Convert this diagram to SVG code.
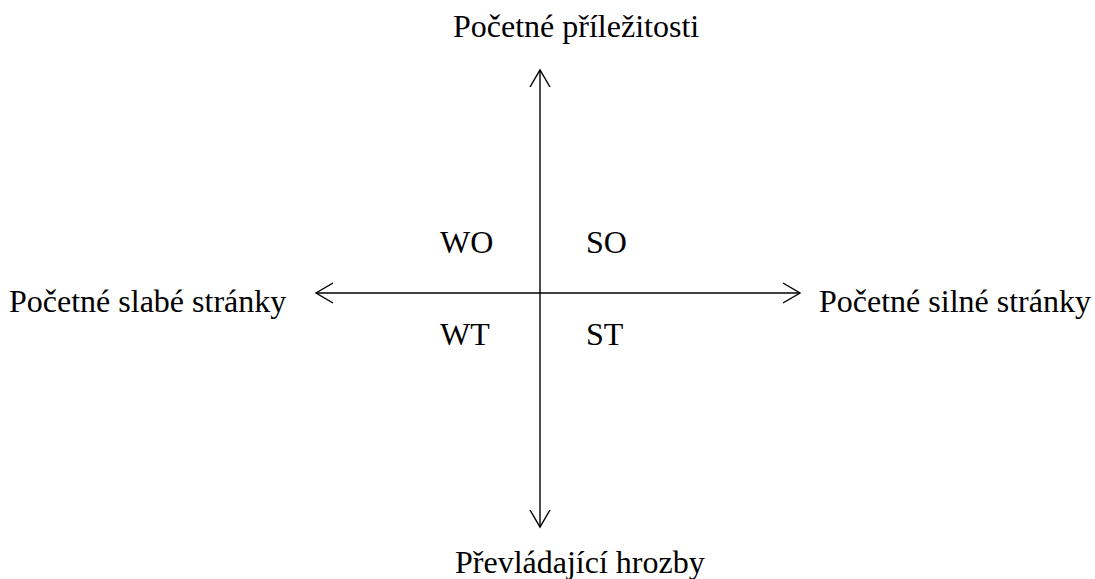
<svg xmlns="http://www.w3.org/2000/svg" width="1095" height="579" viewBox="0 0 1095 579">
  <style>
    text { font-family: "Liberation Serif", "Times New Roman", serif; font-size: 32px; fill: #000; }
    .axis { stroke: #000; stroke-width: 1.4; fill: none; }
  </style>
  <defs>
    <marker id="open" viewBox="0 0 20 22" refX="17" refY="11" markerWidth="20" markerHeight="22" markerUnits="userSpaceOnUse" orient="auto-start-reverse">
      <path d="M0,1 L17,11 L0,21" fill="none" stroke="#000" stroke-width="1.4"/>
    </marker>
  </defs>
  <rect width="1095" height="579" fill="#fff"/>
  <g id="connectors">
    <line class="axis" x1="540" y1="70" x2="540" y2="527" marker-start="url(#open)" marker-end="url(#open)"/>
    <line class="axis" x1="316" y1="293" x2="800" y2="293" marker-start="url(#open)" marker-end="url(#open)"/>
  </g>
  <g id="top-label"><text x="453" y="37">Početné příležitosti</text></g>
  <g id="bottom-label"><text x="455" y="573">Převládající hrozby</text></g>
  <g id="left-label"><text x="9" y="312">Početné slabé stránky</text></g>
  <g id="right-label"><text x="819" y="312">Početné silné stránky</text></g>
  <g id="WO"><text x="440" y="253">WO</text></g>
  <g id="SO"><text x="586" y="253">SO</text></g>
  <g id="WT"><text x="440" y="345">WT</text></g>
  <g id="ST"><text x="586" y="345">ST</text></g>
</svg>
